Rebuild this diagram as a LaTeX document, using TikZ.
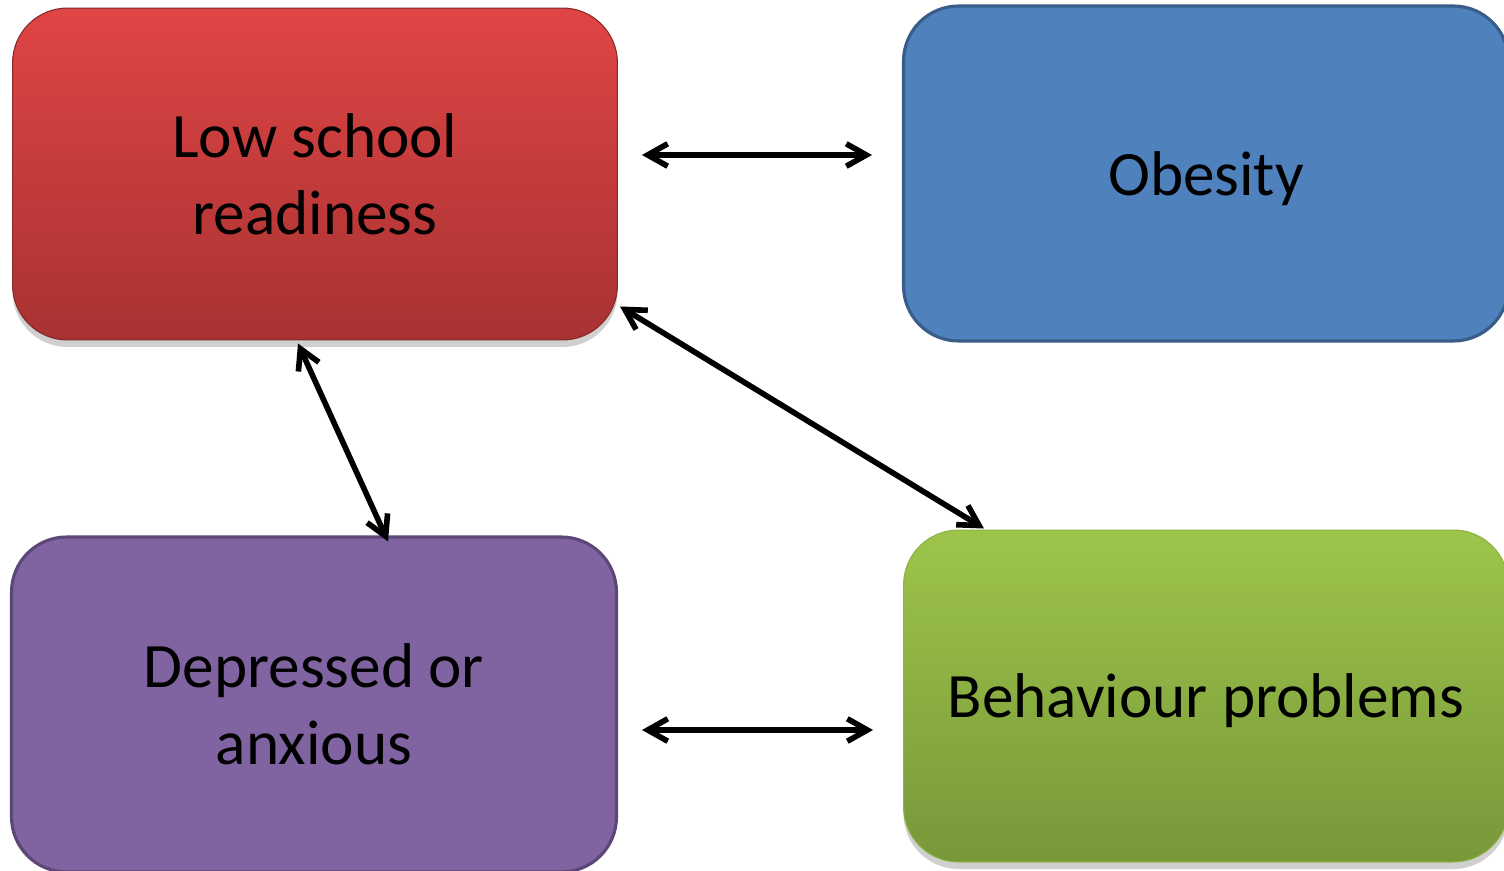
\documentclass[tikz,border=0pt]{standalone}
\usepackage{fontspec}
\setmainfont{Carlito}
\usepackage{tikz}
\usetikzlibrary{arrows.meta,shapes,positioning,shadows,calc}

\definecolor{redtop}{HTML}{E04545}
\definecolor{redbot}{HTML}{A83232}
\definecolor{blufill}{HTML}{4F81BD}
\definecolor{bluline}{HTML}{385D8A}
\definecolor{purfill}{HTML}{8064A2}
\definecolor{purline}{HTML}{5C4776}
\definecolor{grntop}{HTML}{9DC54A}
\definecolor{grnbot}{HTML}{78973A}

\tikzset{
  box/.style={rectangle, rounded corners=1.1cm, minimum width=12.1cm,
    minimum height=6.64cm, align=center, text=black,
    font=\fontsize{36}{44}\selectfont},
  boxshadow/.style={drop shadow={shadow xshift=0pt, shadow yshift=-4pt,
    opacity=0.3, fill=black!60}},
  biarrow/.style={{Straight Barb[length=4mm,width=4.5mm]}-{Straight Barb[length=4mm,width=4.5mm]},
    line width=3.2pt, line cap=round, line join=round, black}
}

\begin{document}
\begin{tikzpicture}[x=0.02cm,y=-0.02cm]
\useasboundingbox (0,0) rectangle (1504,871);
\fill[white] (0,0) rectangle (1504,871);
\begin{scope}
\clip (0,0) rectangle (1504,871);
% boxes
\node[box, boxshadow, top color=redtop, bottom color=redbot, draw=redbot!80!black, line width=0.6pt]
  (readiness) at (315,174) {Low school\\readiness};
\node[box, fill=blufill, draw=bluline, line width=1.8pt, minimum height=6.7cm, text depth=0pt]
  (obesity) at (1206,173.5) {Obesity};
\node[box, fill=purfill, draw=purline, line width=1.8pt, minimum height=6.7cm]
  (depressed) at (314,704.5) {Depressed or\\anxious};
\node[box, boxshadow, top color=grntop, bottom color=grnbot, draw=grntop!90!black, line width=0.6pt, text depth=0pt]
  (behaviour) at (1206,696) {Behaviour problems};
\end{scope}
% arrows
\draw[biarrow] ($(readiness.east)+(24,-19)$) -- ($(obesity.west)+(-30,-18.5)$);
\draw[biarrow] ($(depressed.east)+(24,25.5)$) -- ($(behaviour.west)+(-30,34)$);
\draw[biarrow] ($(readiness.south)+(-17,3)$) -- ($(depressed.north)+(74,6)$);
\draw[biarrow] ($(readiness.south east)+(2,-34)$) -- ($(behaviour.north west)+(81,-1)$);
\end{tikzpicture}
\end{document}
